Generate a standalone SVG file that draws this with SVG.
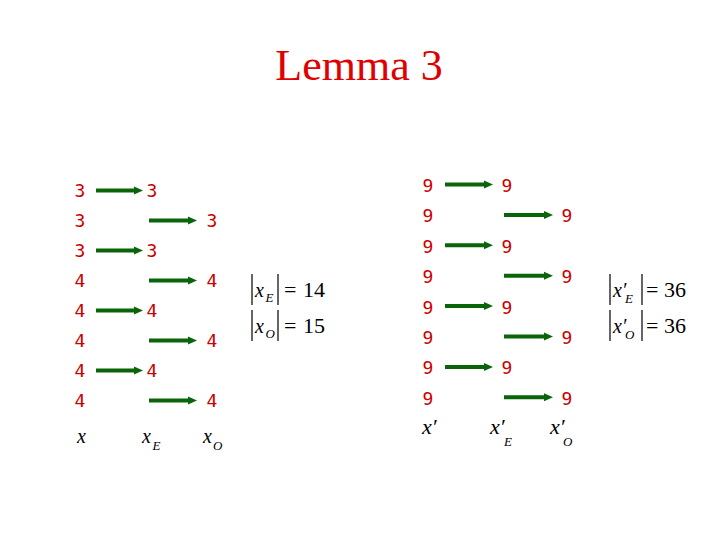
<svg xmlns="http://www.w3.org/2000/svg" width="720" height="540" viewBox="0 0 720 540">
<rect width="720" height="540" fill="#fff"/>
<text font-family="Liberation Serif" style="font-family:'Liberation Serif',serif" font-size="44" fill="#e00000" x="359" y="80" text-anchor="middle">Lemma 3</text>

<g font-family="DejaVu Sans Mono" style="font-family:'DejaVu Sans Mono',monospace" font-size="18" fill="#cc0000" text-anchor="middle">
<g id="left-x">
<g id="x1"><text x="80" y="197">3</text></g>
<g id="x2"><text x="80" y="227">3</text></g>
<g id="x3"><text x="80" y="257">3</text></g>
<g id="x4"><text x="80" y="287">4</text></g>
<g id="x5"><text x="80" y="317">4</text></g>
<g id="x6"><text x="80" y="347">4</text></g>
<g id="x7"><text x="80" y="377">4</text></g>
<g id="x8"><text x="80" y="407">4</text></g>
</g>
<g id="left-xE">
<g id="xE1"><text x="152" y="197">3</text></g>
<g id="xE2"><text x="152" y="257">3</text></g>
<g id="xE3"><text x="152" y="317">4</text></g>
<g id="xE4"><text x="152" y="377">4</text></g>
</g>
<g id="left-xO">
<g id="xO1"><text x="212" y="227">3</text></g>
<g id="xO2"><text x="212" y="287">4</text></g>
<g id="xO3"><text x="212" y="347">4</text></g>
<g id="xO4"><text x="212" y="407">4</text></g>
</g>
<g id="right-x">
<g id="y1"><text x="428" y="192">9</text></g>
<g id="y2"><text x="428" y="222.4">9</text></g>
<g id="y3"><text x="428" y="252.8">9</text></g>
<g id="y4"><text x="428" y="283.2">9</text></g>
<g id="y5"><text x="428" y="313.6">9</text></g>
<g id="y6"><text x="428" y="344">9</text></g>
<g id="y7"><text x="428" y="374.4">9</text></g>
<g id="y8"><text x="428" y="404.8">9</text></g>
</g>
<g id="right-xE">
<g id="yE1"><text x="507" y="192">9</text></g>
<g id="yE2"><text x="507" y="252.8">9</text></g>
<g id="yE3"><text x="507" y="313.6">9</text></g>
<g id="yE4"><text x="507" y="374.4">9</text></g>
</g>
<g id="right-xO">
<g id="yO1"><text x="567" y="222.4">9</text></g>
<g id="yO2"><text x="567" y="283.2">9</text></g>
<g id="yO3"><text x="567" y="344">9</text></g>
<g id="yO4"><text x="567" y="404.8">9</text></g>
</g>
</g>

<g id="connectors" stroke="#0a640a" stroke-width="4" fill="#0a640a">
<path d="M96,190.5H135"/><path stroke="none" d="M134,186.5L143,190.5L134,194.5z"/>
<path d="M149,220.5H189"/><path stroke="none" d="M188,216.5L197,220.5L188,224.5z"/>
<path d="M96,250.5H135"/><path stroke="none" d="M134,246.5L143,250.5L134,254.5z"/>
<path d="M149,280.5H189"/><path stroke="none" d="M188,276.5L197,280.5L188,284.5z"/>
<path d="M96,310.5H135"/><path stroke="none" d="M134,306.5L143,310.5L134,314.5z"/>
<path d="M149,340.5H189"/><path stroke="none" d="M188,336.5L197,340.5L188,344.5z"/>
<path d="M96,370.5H135"/><path stroke="none" d="M134,366.5L143,370.5L134,374.5z"/>
<path d="M149,400.5H189"/><path stroke="none" d="M188,396.5L197,400.5L188,404.5z"/>
<path d="M445,184.5H485"/><path stroke="none" d="M484,180.5L493,184.5L484,188.5z"/>
<path d="M504,214.9H545"/><path stroke="none" d="M544,210.9L553,214.9L544,218.9z"/>
<path d="M445,245.3H485"/><path stroke="none" d="M484,241.3L493,245.3L484,249.3z"/>
<path d="M504,275.7H545"/><path stroke="none" d="M544,271.7L553,275.7L544,279.7z"/>
<path d="M445,306.1H485"/><path stroke="none" d="M484,302.1L493,306.1L484,310.1z"/>
<path d="M504,336.5H545"/><path stroke="none" d="M544,332.5L553,336.5L544,340.5z"/>
<path d="M445,366.9H485"/><path stroke="none" d="M484,362.9L493,366.9L484,370.9z"/>
<path d="M504,397.3H545"/><path stroke="none" d="M544,393.3L553,397.3L544,401.3z"/>
</g>

<g font-family="Liberation Serif" style="font-family:'Liberation Serif',serif" fill="#000" font-style="italic">
<g id="labels-left" font-size="20">
<g id="lbl-x"><text x="77" y="443">x</text></g>
<g id="lbl-xE"><text x="142" y="443">x</text><text font-size="13" x="152.5" y="450">E</text></g>
<g id="lbl-xO"><text x="203" y="443">x</text><text font-size="13" x="213" y="450">O</text></g>
</g>
<g id="labels-right" font-size="22">
<g id="lbl-xp"><text x="422" y="434">x&#x2032;</text></g>
<g id="lbl-xpE"><text x="490" y="434">x&#x2032;</text><text font-size="13" x="504" y="446">E</text></g>
<g id="lbl-xpO"><text x="550" y="434">x&#x2032;</text><text font-size="13" x="563" y="446">O</text></g>
</g>
</g>

<g font-family="Liberation Serif" style="font-family:'Liberation Serif',serif" fill="#000" font-size="20">
<g id="size-left">
<path stroke="#000" stroke-width="1.2" d="M252,274V305M278,274V305M252,310V341M278,310V341"/>
<text font-style="italic" x="255" y="297">x</text><text font-style="italic" font-size="13" x="265.5" y="302">E</text>
<text font-size="22" x="284" y="297">=</text>
<text font-size="22" x="303" y="297">14</text>
<text font-style="italic" x="255" y="333">x</text><text font-style="italic" font-size="13" x="265.5" y="338">O</text>
<text font-size="22" x="284" y="333">=</text>
<text font-size="22" x="303" y="333">15</text>
</g>
<g id="size-right">
<path stroke="#000" stroke-width="1.2" d="M610,274V305M642,274V305M610,310V341M642,310V341"/>
<text font-style="italic" x="613" y="297">x&#x2032;</text><text font-style="italic" font-size="13" x="625" y="303">E</text>
<text font-size="22" x="646" y="297">=</text>
<text font-size="22" x="664" y="297">36</text>
<text font-style="italic" x="613" y="333">x&#x2032;</text><text font-style="italic" font-size="13" x="625" y="339">O</text>
<text font-size="22" x="646" y="333">=</text>
<text font-size="22" x="664" y="333">36</text>
</g>
</g>
</svg>
